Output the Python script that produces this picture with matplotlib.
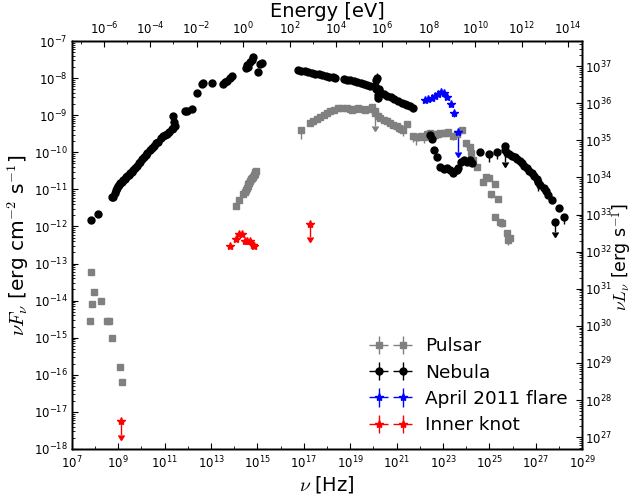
import numpy as np
import matplotlib
matplotlib.use('Agg')
import matplotlib.pyplot as plt
from matplotlib.ticker import FixedLocator, FuncFormatter, NullFormatter

plt.rcParams['font.family'] = ['DejaVu Sans']
plt.rcParams['mathtext.fontset'] = 'cm'
plt.rcParams['xtick.direction'] = 'in'
plt.rcParams['ytick.direction'] = 'in'
plt.rcParams['axes.linewidth'] = 1.0

# ---------------- data (log10 nu [Hz], log10 nuFnu [erg/cm2/s], lower err [dex]) ----------
pulsar_lognu = [7.83, 7.97, 7.86, 8.25, 7.79, 8.53, 8.61, 8.72, 9.08, 9.16,
                14.08, 14.22, 14.40, 14.45, 14.50, 14.54, 14.58, 14.61, 14.65, 14.69,
                14.72, 14.76, 14.80, 14.84, 14.88, 14.91, 14.94,
                16.87, 17.27, 17.40, 17.56, 17.70, 17.85, 18.00, 18.13, 18.30, 18.49,
                18.65, 18.85, 19.00, 19.07, 19.20, 19.35, 19.50, 19.64, 19.80, 19.93,
                20.07, 20.20, 20.29, 20.45, 20.58, 20.72, 20.86, 21.00, 21.08, 21.20,
                21.29, 21.44, 21.70, 21.85, 21.94, 22.05, 22.16, 22.30, 22.44, 22.55,
                22.66, 22.77, 22.88, 23.02, 23.12, 23.23, 23.45, 23.60, 23.81, 23.98,
                24.17, 24.21, 24.31, 24.48, 24.74, 24.86, 24.96, 25.25, 25.06, 25.35,
                25.25, 25.46, 25.53, 25.75, 25.89, 25.82]
pulsar_logF = [-13.24, -13.76, -14.09, -14.02, -14.55, -14.54, -14.56, -15.00, -15.80, -16.19,
               -11.44, -11.30, -11.13, -11.07, -11.02, -10.97, -10.91, -10.86, -10.82, -10.77,
               -10.73, -10.70, -10.66, -10.62, -10.58, -10.54, -10.50,
               -9.40, -9.22, -9.16, -9.10, -9.05, -9.00, -8.95, -8.90, -8.85, -8.81,
               -8.80, -8.80, -8.84, -8.86, -8.82, -8.81, -8.84, -8.86, -8.82, -8.77,
               -8.90, -9.03, -9.07, -9.12, -9.17, -9.21, -9.26, -9.30, -9.34, -9.37,
               -9.40, -9.25, -9.56, -9.60, -9.58, -9.56, -9.60, -9.52, -9.49, -9.50,
               -9.53, -9.50, -9.49, -9.49, -9.47, -9.46, -9.56, -9.51, -9.40, -9.76,
               -9.85, -10.01, -10.21, -10.40, -10.79, -10.67, -10.70, -10.85, -11.12, -11.26,
               -11.74, -11.87, -11.91, -12.18, -12.32, -12.36]
pulsar_err = [0, 0, 0, 0, 0, 0, 0, 0, 0, 0,
              0, 0, 0, 0, 0, 0, 0, 0, 0, 0,
              0, 0, 0, 0, 0, 0, 0,
              0.25, 0, 0, 0, 0, 0, 0, 0, 0, 0,
              0, 0, 0, 0.08, 0, 0, 0, 0, 0.1, 0,
              0, 0, 0, 0, 0.1, 0, 0.12, 0, 0.1, 0,
              0.15, 0, 0.15, 0.2, 0.12, 0, 0.15, 0, 0, 0.1,
              0, 0, 0, 0, 0, 0, 0.1, 0, 0, 0.1,
              0, 0, 0, 0, 0.1, 0, 0, 0, 0.1, 0,
              0, 0.12, 0.1, 0, 0, 0.15]
pulsar_ul_lognu = [20.07]
pulsar_ul_logF = [-8.95]
pulsar_ul_len = [0.35]

nebula_lognu = [7.83, 8.12, 8.72, 8.78, 8.85, 8.90, 8.95, 9.00, 9.05, 9.10, 9.15, 9.22,
                9.28, 9.33, 9.40, 9.45, 9.52, 9.59, 9.65, 9.72, 9.80, 9.88, 9.94, 10.02,
                10.10, 10.18, 10.25, 10.37, 10.45, 10.55, 10.65, 10.73, 10.85, 10.95, 11.02,
                11.10, 11.20, 11.30, 11.38, 11.42, 11.38, 11.45, 11.88, 11.95, 12.20, 12.41,
                12.60, 12.65, 13.03, 13.53, 13.60, 13.68, 13.80, 13.90, 14.50, 14.54, 14.60,
                14.69, 14.75, 14.83, 15.02, 15.10, 15.19,
                16.76, 16.90, 17.05, 17.20, 17.35, 17.50, 17.65, 17.80, 17.95, 18.10, 18.25,
                18.35, 18.71, 18.85, 19.00, 19.15, 19.30, 19.45, 19.60, 19.72, 19.85,
                20.05, 20.10, 20.15, 20.12, 20.18, 20.20, 20.25,
                20.29, 20.45, 20.60, 20.75, 20.90, 21.05, 21.22, 21.35, 21.44, 21.58, 21.72,
                22.44, 22.52, 22.63, 22.76, 22.88, 23.02, 23.16, 23.31, 23.45, 23.60, 23.66,
                23.78, 23.91, 24.03, 24.17, 24.24, 24.60, 24.96, 25.32, 25.65,
                25.75, 25.85, 25.97, 26.08, 26.18, 26.30, 26.40, 26.50, 26.61, 26.72, 26.83,
                26.93, 27.04, 27.10, 27.19, 27.36, 27.45, 27.54, 27.69, 28.00, 28.22]
nebula_logF = [-11.83, -11.67, -11.21, -11.20, -11.10, -11.02, -10.97, -10.92, -10.87, -10.84,
               -10.80, -10.75, -10.71, -10.67, -10.63, -10.60, -10.56, -10.52, -10.47, -10.42,
               -10.36, -10.30, -10.25, -10.19, -10.13, -10.08, -10.03, -9.94, -9.89, -9.82,
               -9.76, -9.71, -9.62, -9.57, -9.53, -9.50, -9.44, -9.38, -9.35, -9.18, -9.02,
               -9.30, -8.89, -8.90, -8.83, -8.41, -8.16, -8.14, -8.12, -8.16, -8.11, -8.07,
               -8.00, -7.94, -7.74, -7.65, -7.70, -7.56, -7.52, -7.44, -7.84, -7.62, -7.60,
               -7.78, -7.80, -7.82, -7.84, -7.86, -7.88, -7.90, -7.92, -7.94, -7.96, -7.97,
               -7.99, -8.02, -8.04, -8.06, -8.08, -8.11, -8.13, -8.16, -8.19, -8.22,
               -8.20, -8.05, -8.00, -8.30, -8.45, -8.54, -8.30,
               -8.37, -8.42, -8.47, -8.52, -8.56, -8.61, -8.66, -8.70, -8.73, -8.76, -8.80,
               -9.53, -9.65, -9.94, -10.12, -10.40, -10.46, -10.43, -10.48, -10.55, -10.48,
               -10.43, -10.25, -10.21, -10.25, -10.21, -10.30, -9.98, -10.05, -9.98, -9.83,
               -10.03, -10.06, -10.10, -10.14, -10.19, -10.24, -10.30, -10.36, -10.43, -10.50,
               -10.57, -10.65, -10.73, -10.80, -10.88, -10.97, -11.05, -11.15, -11.29, -11.51,
               -11.74]
nebula_err = [0, 0, 0, 0, 0, 0, 0, 0, 0, 0, 0, 0,
              0, 0, 0, 0, 0, 0, 0, 0, 0, 0, 0, 0,
              0, 0, 0, 0, 0, 0, 0, 0, 0, 0, 0,
              0, 0, 0, 0, 0, 0, 0.15, 0.1, 0, 0, 0,
              0, 0, 0, 0, 0, 0, 0, 0, 0, 0, 0,
              0, 0, 0, 0, 0, 0,
              0, 0, 0, 0, 0, 0, 0, 0, 0, 0, 0,
              0, 0, 0, 0, 0, 0.08, 0, 0, 0, 0,
              0.1, 0.1, 0.45, 0.15, 0, 0.1, 0,
              0, 0, 0, 0, 0, 0, 0, 0, 0, 0, 0,
              0, 0, 0, 0, 0, 0, 0, 0.1, 0.1, 0, 0,
              0, 0, 0, 0, 0, 0, 0.2, 0.2, 0,
              0, 0, 0, 0, 0, 0, 0, 0, 0, 0, 0,
              0, 0, 0.25, 0, 0, 0, 0, 0, 0, 0.2]
nebula_ul_lognu = [25.65, 27.83]
nebula_ul_logF = [-9.95, -11.87]
nebula_ul_len = [0.3, 0.27]

flare_lognu = [22.23, 22.37, 22.52, 22.66, 22.80, 22.90, 23.02, 23.16, 23.34, 23.48]
flare_logF = [-8.59, -8.57, -8.55, -8.48, -8.43, -8.37, -8.41, -8.50, -8.70, -8.93]
flare_err = [0, 0, 0, 0, 0, 0, 0, 0.05, 0.08, 0.12]
flare_ul_lognu = [23.66]
flare_ul_logF = [-9.44]
flare_ul_len = [0.54]

knot_lognu = [13.82, 14.07, 14.21, 14.33, 14.47, 14.57, 14.69, 14.79, 14.86]
knot_logF = [-12.53, -12.35, -12.20, -12.20, -12.39, -12.38, -12.39, -12.50, -12.53]
knot_err = [0, 0, 0, 0, 0, 0, 0, 0, 0]
knot_ul_lognu = [9.12, 17.27]
knot_ul_logF = [-17.25, -11.94]
knot_ul_len = [0.37, 0.35]

H_EV = 4.135667e-15            # eV s
LUM = 4 * np.pi * (2.0 * 3.0857e21) ** 2   # 4 pi d^2, d = 2 kpc

fig = plt.figure(figsize=(6.35, 5.0), dpi=100)
ax = fig.add_axes([0.113, 0.102, 0.804, 0.816])
ax.set_xscale('log')
ax.set_yscale('log')


def draw(lognu, logF, err, color, marker, ms, label, mec=None):
    nu = 10.0 ** np.asarray(lognu)
    F = 10.0 ** np.asarray(logF)
    e = np.asarray(err, dtype=float)
    yerr = [F * (1 - 10.0 ** -e), F * (10.0 ** (0.3 * e) - 1)]
    xerr = [nu * 0.0, nu * 0.0]
    return ax.errorbar(nu, F, xerr=xerr, yerr=yerr, fmt=marker, color=color, ms=ms,
                       mec=mec if mec else color, elinewidth=1.0, capsize=0, label=label)


def draw_ul(lognu, logF, length, color, marker, ms):
    nu = 10.0 ** np.asarray(lognu)
    F = 10.0 ** np.asarray(logF)
    L = np.asarray(length)
    ax.errorbar(nu, F, yerr=F * (1 - 10.0 ** -L), uplims=True, fmt=marker, color=color,
                ms=ms, mec=color, elinewidth=1.0, capsize=2.3, markeredgewidth=1.0)


h1 = draw(pulsar_lognu, pulsar_logF, pulsar_err, '#808080', 's', 4.0, 'Pulsar')
draw_ul(pulsar_ul_lognu, pulsar_ul_logF, pulsar_ul_len, '#808080', 's', 4.0)
h2 = draw(nebula_lognu, nebula_logF, nebula_err, 'black', 'o', 5.0, 'Nebula')
draw_ul(nebula_ul_lognu, nebula_ul_logF, nebula_ul_len, 'black', 'o', 5.0)
h3 = draw(flare_lognu, flare_logF, flare_err, 'blue', '*', 6.0, 'April 2011 flare')
draw_ul(flare_ul_lognu, flare_ul_logF, flare_ul_len, 'blue', '*', 6.0)
h4 = draw(knot_lognu, knot_logF, knot_err, 'red', '*', 6.0, 'Inner knot')
draw_ul(knot_ul_lognu, knot_ul_logF, knot_ul_len, 'red', '*', 6.0)

ax.set_xlim(1e7, 1e29)
ax.set_ylim(1e-18, 1e-7)

fmt = FuncFormatter(lambda v, pos: r'$\mathregular{10^{%d}}$' % int(round(np.log10(v))))

ax.xaxis.set_major_locator(FixedLocator([10.0 ** k for k in range(7, 30, 2)]))
ax.xaxis.set_minor_locator(FixedLocator([10.0 ** k for k in range(8, 29, 2)]))
ax.xaxis.set_major_formatter(fmt)
ax.xaxis.set_minor_formatter(NullFormatter())
ax.yaxis.set_major_locator(FixedLocator([10.0 ** k for k in range(-18, -6)]))
ax.yaxis.set_minor_locator(FixedLocator([m * 10.0 ** k for k in range(-18, -7) for m in range(2, 10)]))
ax.yaxis.set_major_formatter(fmt)
ax.yaxis.set_minor_formatter(NullFormatter())
ax.tick_params(which='major', length=4.5, width=0.8, labelsize=8.5, pad=3)
ax.tick_params(axis='x', which='major', pad=4)
ax.tick_params(which='minor', length=2.5, width=0.6)
ax.set_xlabel(r'$\nu$ [Hz]', fontsize=14, labelpad=2)
ax.set_ylabel(r'$\nu F_\nu$ [erg cm$^{-2}$ s$^{-1}$]', fontsize=14.5, labelpad=2)

# right axis: luminosity
axr = ax.twinx()
axr.set_yscale('log')
axr.set_ylim(1e-18 * LUM, 1e-7 * LUM)
axr.yaxis.set_major_locator(FixedLocator([10.0 ** k for k in range(27, 38)]))
axr.yaxis.set_minor_locator(FixedLocator([m * 10.0 ** k for k in range(26, 38) for m in range(2, 10)]))
axr.yaxis.set_major_formatter(fmt)
axr.yaxis.set_minor_formatter(NullFormatter())
axr.tick_params(which='major', length=4.5, width=0.8, labelsize=8.5, pad=2)
axr.tick_params(which='minor', length=2.5, width=0.6)
axr.set_ylabel(r'$\nu L_\nu$ [erg s$^{-1}$]', fontsize=12.5, va='center', ha='center')
axr.yaxis.set_label_coords(1.0769, 0.47)

# top axis: energy
axt = ax.twiny()
axt.set_xscale('log')
axt.set_xlim(1e7 * H_EV, 1e29 * H_EV)
axt.xaxis.set_major_locator(FixedLocator([10.0 ** k for k in range(-6, 15, 2)]))
axt.xaxis.set_minor_locator(FixedLocator([10.0 ** k for k in range(-7, 15, 2)]))
axt.xaxis.set_major_formatter(fmt)
axt.xaxis.set_minor_formatter(NullFormatter())
axt.tick_params(which='major', length=4.5, width=0.8, labelsize=8.5, pad=3)
axt.tick_params(which='minor', length=2.5, width=0.6)
axt.set_xlabel('Energy [eV]', fontsize=14, labelpad=2)

ax.legend(handles=[h1, h2, h3, h4], loc='lower right', frameon=False, numpoints=2,
          fontsize=13.3, handlelength=1.9, handletextpad=0.9, labelspacing=0.45,
          borderaxespad=0.4)

fig.savefig('out.png', dpi=100)
